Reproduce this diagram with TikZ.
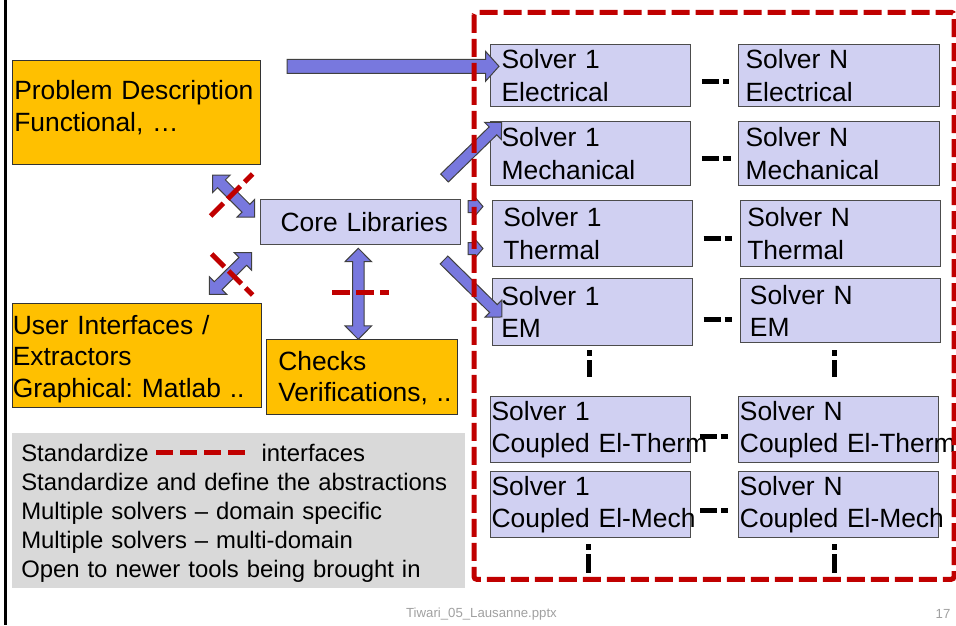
\documentclass[tikz,border=0pt]{standalone}
\usepackage{fontspec}
\setmainfont{Liberation Sans}
\usetikzlibrary{calc}
\frenchspacing
\definecolor{orng}{RGB}{255,192,0}
\definecolor{lav}{RGB}{208,208,242}
\definecolor{arw}{RGB}{120,120,222}
\definecolor{dred}{RGB}{192,0,0}
\definecolor{lgray}{RGB}{217,217,217}
\definecolor{ftgray}{RGB}{160,160,160}
\newcommand\svfont{\frenchspacing\fontsize{19.8}{24.2}\selectfont}
\newcommand\oxfont{\frenchspacing\fontsize{19.8}{23.8}\selectfont}
\newcommand\lgfont{\frenchspacing\fontsize{17.9}{21.75}\selectfont}
\newcommand\ftfont{\fontsize{9.9}{12}\selectfont}
% single block arrow: tail x, tail y, angle, length, shaft half-width, head half-width, head length
\newcommand\singlearrow[7]{%
  \begin{scope}[shift={(#1,#2)},rotate=#3]
    \draw[blockarrow] (0,-#5) -- ({#4-#7},-#5) -- ({#4-#7},-#6) -- (#4,0) -- ({#4-#7},#6) -- ({#4-#7},#5) -- (0,#5) -- cycle;
  \end{scope}}
\newcommand\doublearrow[7]{%
  \begin{scope}[shift={(#1,#2)},rotate=#3]
    \draw[blockarrow] (0,0) -- (#7,-#6) -- (#7,-#5) -- ({#4-#7},-#5) -- ({#4-#7},-#6) -- (#4,0) -- ({#4-#7},#6) -- ({#4-#7},#5) -- (#7,#5) -- (#7,#6) -- cycle;
  \end{scope}}
\tikzset{
  obox/.style={draw=black!80, line width=0.75pt, fill=orng, inner sep=0pt, anchor=north west},
  otext/.style={anchor=base west, inner sep=0pt, text width=200pt, align=left, font=\oxfont},
  solver/.style 2 args={draw=black!70, line width=0.9pt, fill=lav, anchor=north west, inner ysep=0pt, inner xsep=#1, text width=#2, align=left, font=\svfont},
  blockarrow/.style={fill=arw, draw=black!75, line width=0.75pt, line join=miter},
  reddash/.style={draw=dred, line width=3.75pt, dash pattern=on 13.5pt off 4.5pt},
  legdash/.style={draw=dred, line width=3.75pt, dash pattern=on 12.75pt off 5.25pt},
  bdash/.style={draw=black, line width=3.75pt, dash pattern=on 12.75pt off 3pt},
  vdash/.style={draw=black, line width=3.75pt, dash pattern=on 4.5pt off 3pt on 14.25pt off 3pt}
}
\begin{document}
\begin{tikzpicture}[x=0.75pt,y=-0.75pt]
\useasboundingbox (0,0) rectangle (956,625);
% left rule
\draw[line width=2.25pt] (5,0) -- (5,625);

% orange boxes
\node[obox, minimum width=186pt, minimum height=78pt] (prob) at (12,60) {};
\node[otext] (probt) at (14,99.5) {Problem Description\\Functional, …};
\node[obox, minimum width=186.75pt, minimum height=78pt] (ui) at (12,303) {};
\node[otext] (uit) at (12.5,334) {User Interfaces /\\Extractors\\Graphical: Matlab ..};
\node[obox, minimum width=143.25pt, minimum height=56.25pt] (chk) at (266,339) {};
\node[otext] (chkt) at (278,370) {Checks\\Verifications, ..};

% core
\node[draw=black!70, line width=0.9pt, fill=lav, anchor=north west, minimum width=150pt, minimum height=33.75pt, inner xsep=15pt, text width=120pt, inner ysep=0pt, align=left, font=\svfont] (core) at (260,199) {\mbox{Core Libraries}};

% legend
\node[fill=lgray, inner sep=0pt, anchor=north west, minimum width=339.75pt, minimum height=116.25pt] (legbox) at (12,433) {};
\node[anchor=base west, inner sep=0pt, text width=340pt, align=left, font=\lgfont] (legt) at (21,461) {Standardize\hspace{84.75pt}interfaces\\Standardize and define the abstractions\\Multiple solvers – domain specific\\Multiple solvers – multi-domain\\Open to newer tools being brought in};
\draw[legdash] (156,452.5) -- (246,452.5);

% solvers
\node[solver={8.25pt}{133.5pt}, minimum height=46.5pt] (s1e) at (490,44) {Solver 1\\Electrical};
\node[solver={5.25pt}{140.25pt}, minimum height=46.5pt] (sne) at (738,44) {Solver N\\Electrical};
\node[solver={8.25pt}{133.5pt}, minimum height=48pt] (s1m) at (490,121) {Solver 1\\Mechanical};
\node[solver={5.25pt}{140.25pt}, minimum height=48pt] (snm) at (738,121) {Solver N\\Mechanical};
\node[solver={8pt}{134pt}, minimum height=49.5pt] (s1t) at (492,200) {Solver 1\\Thermal};
\node[solver={5pt}{140pt}, minimum height=49.5pt] (snt) at (740,200) {Solver N\\Thermal};
\node[solver={6.5pt}{137pt}, minimum height=50.25pt] (s1x) at (492,278) {Solver 1\\EM};
\node[solver={7pt}{136pt}, minimum height=48pt] (snx) at (740,278) {Solver N\\EM};
\node[solver={0.75pt}{148.5pt}, minimum height=49.5pt] (s1c) at (490,396) {Solver 1\\\mbox{Coupled El-Therm}};
\node[solver={1pt}{148pt}, minimum height=49.5pt] (snc) at (738,396) {Solver N\\\mbox{Coupled El-Therm}};
\node[solver={0.75pt}{148.5pt}, minimum height=49.5pt] (s1k) at (490,471) {Solver 1\\\mbox{Coupled El-Mech}};
\node[solver={1pt}{148pt}, minimum height=49.5pt] (snk) at (738,471) {Solver N\\\mbox{Coupled El-Mech}};

% dashes between columns
\draw[bdash] ($(s1e.east)+(10.7,6)$) -- ($(sne.west)+(-8.7,6)$);
\draw[bdash] ($(s1m.east)+(10.7,5.3)$) -- ($(snm.west)+(-7.3,5.3)$);
\draw[bdash] ($(s1t.east)+(10.3,5.3)$) -- ($(snt.west)+(-7.7,5.3)$);
\draw[bdash] ($(s1x.east)+(10.3,7)$) -- ($(snx.west)+(-7.7,8.5)$);
\draw[bdash] ($(s1c.east)+(8.3,6.7)$) -- ($(snc.west)+(-10.3,6.7)$);
\draw[bdash] ($(s1k.east)+(9,6)$) -- ($(snk.west)+(-9.7,6)$);

% vertical dots
\draw[vdash] ($(s1x.south)+(-3,4)$) -- ($(s1c.north)+(-1,-19)$);
\draw[vdash] ($(snx.south)+(-6,7)$) -- ($(snc.north)+(-4,-19)$);
\coordinate (endL) at ($(s1k.south)+(-1.7,35)$);
\coordinate (endR) at ($(snk.south)+(-4,35)$);
\draw[vdash] ($(s1k.south)+(-1.7,6)$) -- (endL);
\draw[vdash] ($(snk.south)+(-4,6)$) -- (endR);

% block arrows
\singlearrow{287}{66.3}{0}{212}{7}{15}{13.5}
\singlearrow{444.5}{178}{44.2}{79.6}{5.5}{12}{12}
\singlearrow{444}{260}{-44.5}{81.3}{5.5}{12}{12}
\singlearrow{468}{206.5}{0}{15}{6}{9}{7.7}
\singlearrow{468}{248.5}{0}{15}{6}{9}{7.7}
\doublearrow{212.7}{175}{-45}{59.4}{5.5}{12.4}{12.4}
\doublearrow{209.3}{294.3}{44.5}{59.4}{5.5}{12.4}{12.4}
\doublearrow{358.3}{248.3}{-90}{91}{5.75}{13.3}{13.4}

% red crossings
\draw[reddash] (210.7,216) -- (252.7,174);
\draw[reddash] (211.7,254) -- (252.7,295);
\draw[reddash] (332,292) -- (389,292);

% interface boundary
\draw[reddash, rounded corners=2pt] (474,12.3) rectangle (954,579.3);

% footer
\node[font=\ftfont, text=ftgray, inner sep=0pt] (foot) at (481.5,614) {Tiwari\_05\_Lausanne.pptx};
\node[font=\ftfont, text=ftgray, inner sep=0pt] (pg) at (943,614) {17};
\end{tikzpicture}
\end{document}
